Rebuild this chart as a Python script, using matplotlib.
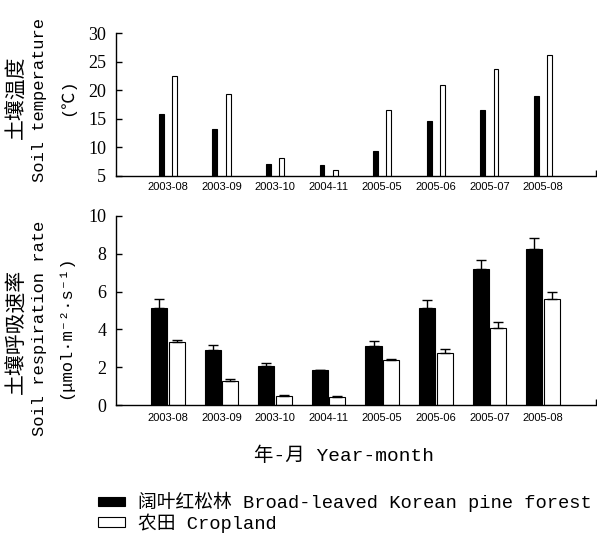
import numpy as np
import matplotlib
matplotlib.use("Agg")
import matplotlib.pyplot as plt
from matplotlib.patches import Patch

months = ["2003-08", "2003-09", "2003-10", "2004-11",
          "2005-05", "2005-06", "2005-07", "2005-08"]

# soil temperature (degC)
temp_forest = [15.8, 13.2, 7.1, 7.0, 9.4, 14.7, 16.5, 19.0]
temp_crop = [22.5, 19.3, 8.2, 6.1, 16.5, 20.9, 23.7, 26.2]

# soil respiration rate (umol m-2 s-1) and upper error
resp_forest = [5.12, 2.91, 2.06, 1.83, 3.14, 5.13, 7.20, 8.27]
resp_forest_err = [0.51, 0.25, 0.14, 0.03, 0.26, 0.41, 0.49, 0.58]
resp_crop = [3.32, 1.27, 0.46, 0.44, 2.38, 2.77, 4.09, 5.59]
resp_crop_err = [0.14, 0.11, 0.07, 0.02, 0.03, 0.21, 0.32, 0.39]

MONO = ["Liberation Mono", "DejaVu Sans Mono", "Noto Sans CJK SC"]
CJK = ["Noto Sans CJK SC", "DejaVu Sans"]
NUM = ["Liberation Serif"]
TICK = ["Liberation Sans"]

W, H = 597, 533
fig = plt.figure(figsize=(W / 100, H / 100), dpi=100)


def axes_px(left, top, right, bottom):
    return fig.add_axes([left / W, 1 - bottom / H, (right - left) / W, (bottom - top) / H])


def style(ax, yticks):
    for s in ["top", "right"]:
        ax.spines[s].set_visible(False)
    for s in ["left", "bottom"]:
        ax.spines[s].set_linewidth(1.0)
    ax.set_yticks(yticks)
    ax.set_yticklabels([str(v) for v in yticks], fontfamily=NUM, fontsize=13)
    ax.tick_params(axis="y", direction="in", length=4, width=1, pad=7)
    ax.set_xticks(np.arange(len(months)))
    ax.set_xticklabels(months, fontfamily=TICK, fontsize=8)
    ax.tick_params(axis="x", length=0, pad=6)
    ax.set_xticks([7.99], minor=True)
    ax.tick_params(axis="x", which="minor", direction="in", length=4, width=1)
    ax.set_xlim(-0.97, 7.99)


x = np.arange(len(months))

# top panel: soil temperature
ax1 = axes_px(116, 33, 596, 176)
ax1.bar(x - 0.124, temp_forest, width=0.09, bottom=0, color="black", edgecolor="black", linewidth=0.8)
ax1.bar(x + 0.124, temp_crop, width=0.09, color="white", edgecolor="black", linewidth=0.8)
ax1.set_ylim(5, 30)
style(ax1, [5, 10, 15, 20, 25, 30])
ax1.tick_params(axis="x", pad=4)

# bottom panel: soil respiration
ax2 = axes_px(116, 216, 596, 405)
zeros = np.zeros(len(months))
ax2.bar(x - 0.163, resp_forest, width=0.3, color="black", edgecolor="black", linewidth=0.8,
        yerr=[zeros, resp_forest_err], error_kw=dict(ecolor="black", elinewidth=1, capsize=3.5, capthick=1))
ax2.bar(x + 0.163, resp_crop, width=0.3, color="white", edgecolor="black", linewidth=0.8,
        yerr=[zeros, resp_crop_err], error_kw=dict(ecolor="black", elinewidth=1, capsize=3.5, capthick=1))
ax2.set_ylim(0, 10)
style(ax2, [0, 2, 4, 6, 8, 10])

# y labels (three rotated lines each)
fig.text(17 / W, 1 - 97 / H, "土壤温度", rotation=90, ha="center", va="center", fontfamily=CJK, fontsize=15)
fig.text(40 / W, 1 - 100 / H, "Soil temperature", rotation=90, ha="center", va="center", fontfamily=MONO, fontsize=12.3)
fig.text(67 / W, 1 - 97 / H, "(℃)", rotation=90, ha="center", va="center", fontfamily=MONO, fontsize=12.3)

fig.text(17 / W, 1 - 331 / H, "土壤呼吸速率", rotation=90, ha="center", va="center", fontfamily=CJK, fontsize=15)
fig.text(40 / W, 1 - 328 / H, "Soil respiration rate", rotation=90, ha="center", va="center", fontfamily=MONO, fontsize=12.3)
fig.text(65 / W, 1 - 327 / H, "(μmol·m⁻²·s⁻¹)", rotation=90, ha="center", va="center", fontfamily=MONO, fontsize=12.3)

# x label
fig.text(344 / W, 1 - 456 / H, "年-月 Year-month", ha="center", va="center", fontfamily=MONO, fontsize=14)

# legend
handles = [Patch(facecolor="black", edgecolor="black", linewidth=0.8),
           Patch(facecolor="white", edgecolor="black", linewidth=0.8)]
labels = ["阔叶红松林 Broad-leaved Korean pine forest", "农田 Cropland"]
fig.legend(handles, labels, loc="upper left", bbox_to_anchor=(98 / W, 1 - 492 / H),
           frameon=False, borderpad=0, borderaxespad=0, handlelength=1.44, handleheight=0.4,
           handletextpad=0.7, labelspacing=0.05, prop={"family": MONO, "size": 13.5})

fig.savefig("out.png", dpi=100)
